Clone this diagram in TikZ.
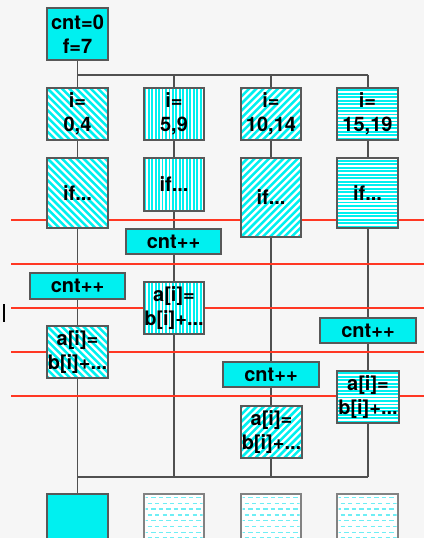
\documentclass[tikz,border=0pt]{standalone}
\usepackage{fontspec}
\setmainfont{TeX Gyre Heros}
\definecolor{cy}{RGB}{0,240,240}
\definecolor{bgc}{RGB}{246,246,246}
\definecolor{edge}{RGB}{88,88,88}
\definecolor{edgeb}{RGB}{130,130,130}
\definecolor{conn}{RGB}{80,80,80}
\definecolor{redl}{RGB}{255,55,35}
\definecolor{lcy}{RGB}{110,238,245}
\tikzset{
  sz/.style 2 args={minimum width=#1*0.75pt, minimum height=#2*0.75pt},
  box/.style={draw=edge, line width=1pt, inner sep=0pt, text=black,
    font=\bfseries\fontsize{15}{18}\selectfont, align=center},
  solidbox/.style={box, fill=cy},
  stripe/.style={draw=cy},
  hatchnw/.style={box, fill=white, path picture={
    \foreach \k in {-13,...,10}{
      \draw[stripe, line width=1.9pt] ([xshift=\k*5.4pt]path picture bounding box.north west) -- ++(62pt,-62pt);}}},
  hatchne/.style={box, fill=white, path picture={
    \foreach \k in {-13,...,10}{
      \draw[stripe, line width=1.9pt] ([xshift=\k*5.4pt]path picture bounding box.south west) -- ++(62pt,62pt);}}},
  hatchv/.style={box, fill=white, path picture={
    \foreach \k in {0,...,19}{
      \draw[stripe, line width=1.4pt] ([xshift=\k*2.6pt+0.9pt]path picture bounding box.south west) -- ++(0,62pt);}}},
  hatchh/.style={box, fill=white, path picture={
    \foreach \k in {0,...,24}{
      \draw[stripe, line width=1.4pt] ([yshift=\k*2.6pt+0.9pt]path picture bounding box.south west) -- ++(50pt,0);}}},
  bottombox/.style={draw=edgeb, line width=1.4pt, inner sep=0pt, fill=white},
  connector/.style={draw=conn, line width=0.8pt},
  redline/.style={draw=redl, line width=1.5pt},
  dashrow/.style={draw=lcy, line width=1.1pt, dash pattern=on 3.2pt off 2.4pt}
}
\begin{document}
\begin{tikzpicture}[x=0.75pt, y=-0.75pt]
\useasboundingbox (0,0) rectangle (424,538);
\fill[bgc] (0,0) rectangle (424,538);

% junction coordinates of the connectors
\coordinate (s1) at (77.5,60);
\coordinate (e1) at (77.5,494);
\coordinate (t1) at (77.5,75);
\coordinate (t2) at (174,75);
\coordinate (t3) at (271,75);
\coordinate (t4) at (368,75);
\coordinate (u1) at (77.5,477);
\coordinate (u2) at (174,477);
\coordinate (u3) at (271,477);
\coordinate (u4) at (368,477);
\coordinate (m1) at (4,304);
\coordinate (m2) at (4,322);

\draw[connector] (s1) -- (e1);
\draw[connector] (t1) -- (t4);
\draw[connector] (u1) -- (u4);
\draw[connector] (t2) -- (u2);
\draw[connector] (t3) -- (u3);
\draw[connector] (t4) -- (u4);
\foreach \yy in {220,264,308,352,396}{
  \draw[redline] (11,\yy) -- (424,\yy);
}
\draw[line width=1.3pt, black] (m1) -- (m2);

% top
\node[solidbox, sz={61}{52}] (top) at (77.5,34) {cnt=0\\f=7};

% i= row
\node[hatchnw, sz={61}{52}] (i1) at (77.5,114) {i=\\0,4};
\node[hatchv,  sz={60}{52}] (i2) at (174,114) {i=\\5,9};
\node[hatchne, sz={60}{52}] (i3) at (271,114) {i=\\10,14};
\node[hatchh,  sz={61}{52}] (i4) at (367.5,114) {i=\\15,19};

% if row
\node[hatchnw, sz={61}{70}] (if1) at (77.5,193) {if...};
\node[hatchv,  sz={60}{53}] (if2) at (174,184.5) {if...};
\node[hatchne, sz={60}{79}] (if3) at (271,197.5) {if...};
\node[hatchh,  sz={61}{70}] (if4) at (367.5,193) {if...};

% cnt++
\node[solidbox, sz={95}{25}] (c2) at (173.5,241.5) {cnt++};
\node[solidbox, sz={95}{26}] (c1) at (77.5,286) {cnt++};
\node[solidbox, sz={96}{25}] (c4) at (368,330.5) {cnt++};
\node[solidbox, sz={96}{25}] (c3) at (271,374.5) {cnt++};

% a[i]=
\node[hatchv,  sz={60}{52}] (a2) at (174,308) {a[i]=\\b[i]+...};
\node[hatchnw, sz={61}{52}] (a1) at (77.5,352) {a[i]=\\b[i]+...};
\node[hatchh,  sz={62}{52}] (a4) at (368,397) {a[i]=\\b[i]+...};
\node[hatchne, sz={61}{52}] (a3) at (271.5,432) {a[i]=\\b[i]+...};

% bottom
\node[solidbox, sz={61}{51}] (b1) at (77.5,519.5) {};
\node[bottombox, sz={60}{51}] (b2) at (174,519.5) {};
\node[bottombox, sz={60}{51}] (b3) at (271,519.5) {};
\node[bottombox, sz={61}{51}] (b4) at (367.5,519.5) {};

\foreach \xa/\xb in {144/204, 241/301, 337/398}{
  \begin{scope}
    \clip (\xa+1.5,495.5) rectangle (\xb-1.5,545);
    \foreach \k in {0,...,7}{
      \pgfmathsetmacro\yy{497.5+5.8*\k}
      \pgfmathsetmacro\ph{mod(\k,2)*2.8}
      \draw[dashrow, dash phase=\ph pt] (\xa,\yy) -- (\xb,\yy);
    }
  \end{scope}
}
\end{tikzpicture}
\end{document}
